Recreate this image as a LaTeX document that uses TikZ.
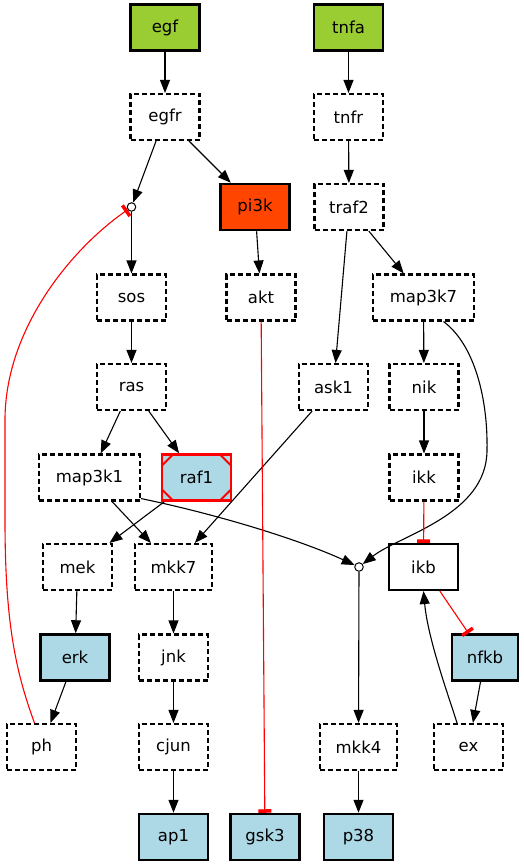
\documentclass[tikz,border=0pt]{standalone}
\usepackage{fontspec}
\setmainfont{DejaVu Sans}
\usetikzlibrary{arrows.meta}

\definecolor{srcgreen}{HTML}{9ACD32}
\definecolor{outblue}{HTML}{ADD8E6}
\definecolor{drugred}{HTML}{FF4500}

\begin{document}
\begin{tikzpicture}[x=1pt,y=-1pt,
  base/.style={rectangle, minimum height=46pt, minimum width=69pt, inner sep=0pt,
               font=\fontsize{16.5}{18}\selectfont, line width=2.1pt},
  dbox/.style={base, draw, dash pattern=on 5pt off 3pt, fill=white},
  sbox/.style={base, draw, fill=white},
  input/.style={base, draw, fill=srcgreen, line width=2.5pt},
  output/.style={base, draw, fill=outblue, line width=2.5pt},
  hit/.style={base, draw, fill=drugred, line width=2.5pt},
  msq/.style={base, draw=red, fill=outblue, line width=2.5pt,
    path picture={
      \draw[red, line width=1.9pt]
        ([yshift=-11pt]path picture bounding box.north west) -- ([xshift=11pt]path picture bounding box.north west)
        ([yshift=-11pt]path picture bounding box.north east) -- ([xshift=-11pt]path picture bounding box.north east)
        ([yshift=11pt]path picture bounding box.south west) -- ([xshift=11pt]path picture bounding box.south west)
        ([yshift=11pt]path picture bounding box.south east) -- ([xshift=-11pt]path picture bounding box.south east);
    }},
  junc/.style={circle, draw, fill=white, minimum size=8.5pt, inner sep=0pt, line width=1pt},
  act/.style={line width=1.1pt, -{Triangle[length=13pt,width=10pt]}},
  inh/.style={draw=red, line width=1.1pt, -{Rectangle[length=3.5pt,width=13pt,red]}}
]
\useasboundingbox (0,0) rectangle (524,865);

% nodes
\node[input] (egf) at (165,27.5) {egf};
\node[input] (tnfa) at (348.5,27.5) {tnfa};
\node[dbox] (egfr) at (165,117) {egfr};
\node[dbox] (tnfr) at (348.5,117) {tnfr};
\node[junc] (j1) at (131.5,207) {};
\node[hit] (pi3k) at (255,207) {pi3k};
\node[dbox] (traf2) at (349,207) {traf2};
\node[dbox] (sos) at (131.5,297.5) {sos};
\node[dbox] (akt) at (261,297.5) {akt};
\node[dbox, minimum width=101pt] (map3k7) at (423.5,297.5) {map3k7};
\node[dbox] (ras) at (131.5,387) {ras};
\node[dbox] (ask1) at (333.5,387) {ask1};
\node[dbox] (nik) at (424,387) {nik};
\node[dbox, minimum width=101pt] (map3k1) at (89.5,477.5) {map3k1};
\node[msq] (raf1) at (196.5,477.5) {raf1};
\node[dbox] (ikk) at (424,477.5) {ikk};
\node[dbox] (mek) at (77.5,567) {mek};
\node[dbox, minimum width=77pt] (mkk7) at (173.5,567) {mkk7};
\node[junc] (j2) at (359,567) {};
\node[sbox] (ikb) at (423.5,567) {ikb};
\node[output] (erk) at (75,657.5) {erk};
\node[dbox] (jnk) at (173.5,657.5) {jnk};
\node[output, minimum width=66pt] (nfkb) at (485,657.5) {nfkb};
\node[dbox] (ph) at (41.5,747) {ph};
\node[dbox] (cjun) at (173.5,747) {cjun};
\node[dbox, minimum width=77pt] (mkk4) at (358.5,747) {mkk4};
\node[dbox] (ex) at (468.5,747) {ex};
\node[output] (ap1) at (173.5,837) {ap1};
\node[output] (gsk3) at (265,837) {gsk3};
\node[output] (p38) at (358.5,837) {p38};

% activating edges
\draw[act] (egf) -- (egfr);
\draw[act] (tnfa) -- (tnfr);
\draw[act] (egfr) -- (j1);
\draw[act] (egfr) -- (pi3k);
\draw[act] (j1) -- (sos);
\draw[act] (pi3k) -- (akt);
\draw[act] (tnfr) -- (traf2);
\draw[act] (traf2) -- (ask1);
\draw[act] (traf2) -- (map3k7);
\draw[act] (map3k7) -- (nik);
\draw[act] (sos) -- (ras);
\draw[act] (ras) -- (map3k1);
\draw[act] (ras) -- (raf1);
\draw[act] (nik) -- (ikk);
\draw[act] (ask1) -- (mkk7);
\draw[act] (map3k1) -- (mkk7);
\draw[act] (raf1) -- (mek);
\draw[act] (mek) -- (erk);
\draw[act] (mkk7) -- (jnk);
\draw[act] (jnk) -- (cjun);
\draw[act] (cjun) -- (ap1);
\draw[act] (j2) -- (mkk4);
\draw[act] (mkk4) -- (p38);
\draw[act] (erk) -- (ph);
\draw[act] (nfkb) -- (ex);
\draw[act] ([xshift=-11.5pt]ex.north) .. controls (450,700) and (428,640) .. (ikb.south);
\draw[act] ([xshift=20pt]map3k7.south) .. controls (475,345) and (488,400) .. (487,450)
           .. controls (487,515) and (400,535) .. (j2);
\draw[act] ([yshift=3pt]map3k1.south east) .. controls (220,515) and (300,540) .. (j2);

% inhibiting edges
\draw[inh] (akt) -- (gsk3);
\draw[inh] (ikk) -- (ikb);
\draw[inh] (ikb) -- (nfkb);
\draw[inh] ([xshift=-7pt]ph.north) .. controls (15,670) and (5,620) .. (5,520) -- (5,420)
           .. controls (5,330) and (70,250) .. (j1);
\end{tikzpicture}
\end{document}
